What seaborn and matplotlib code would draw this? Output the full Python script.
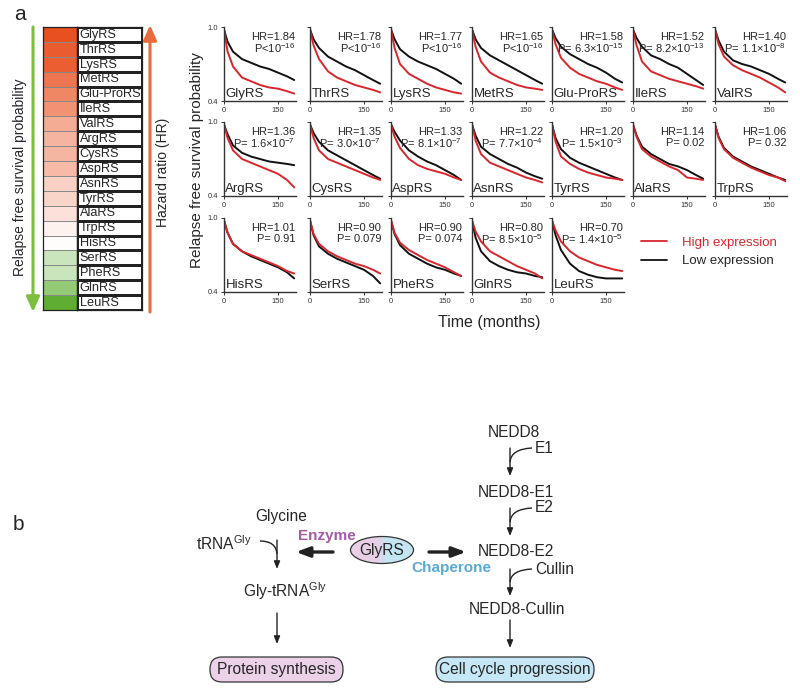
import numpy as np
import pandas as pd
import matplotlib
matplotlib.use('Agg')
import matplotlib.pyplot as plt
import seaborn as sns
from matplotlib.colors import LinearSegmentedColormap, TwoSlopeNorm, ListedColormap
from matplotlib.patches import FancyBboxPatch, Ellipse, PathPatch
from matplotlib.path import Path
from matplotlib.lines import Line2D

# --- data ---
genes = ['GlyRS', 'ThrRS', 'LysRS', 'MetRS', 'Glu-ProRS', 'IleRS', 'ValRS',
         'ArgRS', 'CysRS', 'AspRS', 'AsnRS', 'TyrRS', 'AlaRS', 'TrpRS',
         'HisRS', 'SerRS', 'PheRS', 'GlnRS', 'LeuRS']
hr = [1.84, 1.78, 1.77, 1.65, 1.58, 1.52, 1.40, 1.36, 1.35, 1.33, 1.22,
      1.20, 1.14, 1.06, 1.01, 0.90, 0.90, 0.80, 0.70]
p_labels = ['P<10$^{-16}$', 'P<10$^{-16}$', 'P<10$^{-16}$', 'P<10$^{-16}$',
            'P= 6.3×10$^{-15}$', 'P= 8.2×10$^{-13}$', 'P= 1.1×10$^{-8}$',
            'P= 1.6×10$^{-7}$', 'P= 3.0×10$^{-7}$', 'P= 8.1×10$^{-7}$',
            'P= 7.7×10$^{-4}$', 'P= 1.5×10$^{-3}$', 'P= 0.02', 'P= 0.32',
            'P= 0.91', 'P= 0.079', 'P= 0.074', 'P= 8.5×10$^{-5}$', 'P= 1.4×10$^{-5}$']

months = [0, 10, 25, 50, 75, 100, 125, 150, 175, 195]
surv_low = {
    'GlyRS':     [0.98, 0.88, 0.80, 0.74, 0.71, 0.68, 0.66, 0.63, 0.60, 0.57],
    'ThrRS':     [0.98, 0.90, 0.83, 0.76, 0.72, 0.68, 0.65, 0.61, 0.57, 0.54],
    'LysRS':     [0.98, 0.90, 0.82, 0.76, 0.72, 0.69, 0.66, 0.62, 0.58, 0.54],
    'MetRS':     [0.98, 0.90, 0.83, 0.77, 0.73, 0.69, 0.65, 0.61, 0.57, 0.54],
    'Glu-ProRS': [0.98, 0.91, 0.84, 0.78, 0.74, 0.70, 0.67, 0.63, 0.58, 0.55],
    'IleRS':     [0.98, 0.91, 0.84, 0.77, 0.74, 0.70, 0.67, 0.62, 0.57, 0.53],
    'ValRS':     [0.98, 0.89, 0.80, 0.73, 0.70, 0.68, 0.65, 0.62, 0.58, 0.55],
    'ArgRS':     [0.98, 0.90, 0.81, 0.75, 0.72, 0.70, 0.68, 0.67, 0.66, 0.65],
    'CysRS':     [0.98, 0.91, 0.84, 0.77, 0.73, 0.69, 0.65, 0.61, 0.57, 0.54],
    'AspRS':     [0.98, 0.92, 0.85, 0.77, 0.72, 0.68, 0.65, 0.61, 0.57, 0.53],
    'AsnRS':     [0.98, 0.89, 0.80, 0.74, 0.70, 0.66, 0.63, 0.59, 0.56, 0.54],
    'TyrRS':     [0.98, 0.87, 0.78, 0.71, 0.67, 0.64, 0.61, 0.58, 0.55, 0.53],
    'AlaRS':     [0.98, 0.89, 0.80, 0.74, 0.70, 0.66, 0.64, 0.61, 0.57, 0.54],
    'TrpRS':     [0.98, 0.88, 0.79, 0.72, 0.68, 0.64, 0.61, 0.58, 0.55, 0.53],
    'HisRS':     [0.98, 0.88, 0.79, 0.73, 0.69, 0.66, 0.63, 0.60, 0.56, 0.51],
    'SerRS':     [0.98, 0.86, 0.77, 0.71, 0.67, 0.64, 0.61, 0.58, 0.53, 0.47],
    'PheRS':     [0.98, 0.87, 0.78, 0.71, 0.67, 0.63, 0.60, 0.58, 0.55, 0.53],
    'GlnRS':     [0.98, 0.84, 0.73, 0.65, 0.61, 0.58, 0.56, 0.55, 0.53, 0.52],
    'LeuRS':     [0.98, 0.86, 0.74, 0.63, 0.57, 0.54, 0.52, 0.51, 0.51, 0.51],
}
surv_high = {
    'GlyRS':     [0.98, 0.80, 0.68, 0.59, 0.56, 0.53, 0.51, 0.50, 0.48, 0.46],
    'ThrRS':     [0.98, 0.85, 0.74, 0.64, 0.59, 0.56, 0.53, 0.51, 0.49, 0.47],
    'LysRS':     [0.98, 0.83, 0.70, 0.62, 0.58, 0.54, 0.51, 0.49, 0.47, 0.46],
    'MetRS':     [0.98, 0.84, 0.72, 0.63, 0.59, 0.56, 0.53, 0.51, 0.50, 0.49],
    'Glu-ProRS': [0.98, 0.86, 0.75, 0.67, 0.62, 0.59, 0.56, 0.54, 0.51, 0.49],
    'IleRS':     [0.98, 0.85, 0.72, 0.64, 0.61, 0.58, 0.56, 0.54, 0.52, 0.50],
    'ValRS':     [0.98, 0.86, 0.76, 0.69, 0.65, 0.62, 0.59, 0.55, 0.51, 0.47],
    'ArgRS':     [0.98, 0.87, 0.77, 0.70, 0.67, 0.64, 0.61, 0.58, 0.53, 0.47],
    'CysRS':     [0.98, 0.87, 0.77, 0.70, 0.67, 0.64, 0.61, 0.58, 0.55, 0.53],
    'AspRS':     [0.98, 0.88, 0.79, 0.70, 0.65, 0.62, 0.60, 0.58, 0.55, 0.53],
    'AsnRS':     [0.98, 0.85, 0.74, 0.67, 0.64, 0.61, 0.58, 0.55, 0.53, 0.51],
    'TyrRS':     [0.98, 0.84, 0.72, 0.66, 0.62, 0.59, 0.57, 0.55, 0.54, 0.53],
    'AlaRS':     [0.98, 0.88, 0.78, 0.72, 0.68, 0.64, 0.61, 0.55, 0.54, 0.53],
    'TrpRS':     [0.98, 0.87, 0.78, 0.71, 0.67, 0.63, 0.60, 0.57, 0.55, 0.52],
    'HisRS':     [0.98, 0.88, 0.79, 0.73, 0.70, 0.67, 0.64, 0.61, 0.57, 0.55],
    'SerRS':     [0.98, 0.87, 0.79, 0.73, 0.69, 0.66, 0.63, 0.61, 0.58, 0.55],
    'PheRS':     [0.98, 0.88, 0.80, 0.74, 0.70, 0.66, 0.63, 0.60, 0.56, 0.53],
    'GlnRS':     [0.98, 0.89, 0.81, 0.73, 0.69, 0.65, 0.61, 0.58, 0.55, 0.51],
    'LeuRS':     [0.98, 0.90, 0.81, 0.73, 0.68, 0.65, 0.62, 0.60, 0.58, 0.57],
}

sns.set_style('ticks')
plt.rcParams['font.family'] = ['Liberation Sans', 'DejaVu Sans']
plt.rcParams['mathtext.default'] = 'regular'

W, H = 800, 691
fig = plt.figure(figsize=(W / 100, H / 100), dpi=100)


def px_axes(x, y, w, h):
    return fig.add_axes([x / W, 1 - (y + h) / H, w / W, h / H])


RED = '#d8262c'
BLACK = '#111111'

# --- left heatmap of hazard ratios ---
cmap = LinearSegmentedColormap.from_list('hr', ['#5fae32', '#ffffff', '#e8501f'])
norm = TwoSlopeNorm(vmin=0.7, vcenter=1.0, vmax=1.84)
ax_h = px_axes(43, 27, 34, 283)
sns.heatmap(np.array(hr).reshape(-1, 1), cmap=cmap, norm=norm, cbar=False,
            linewidths=0.4, linecolor='#888888', xticklabels=False,
            yticklabels=False, ax=ax_h)
ax_l = px_axes(77, 27, 65, 283)
sns.heatmap(np.zeros((len(genes), 1)), cmap=ListedColormap(['white']), cbar=False,
            linewidths=0.8, linecolor='#222222', xticklabels=False,
            yticklabels=False, ax=ax_l)
for i, g in enumerate(genes):
    ax_l.text(0.04, i + 0.52, g, va='center', ha='left', fontsize=9.2)
for a in (ax_h, ax_l):
    for s in a.spines.values():
        s.set_visible(True)
        s.set_linewidth(0.9)
        s.set_color('#222222')

# --- KM panels ---
lefts = [224, 310, 391, 472, 552, 633, 715]
tops = [27, 122, 218]
for k, g in enumerate(genes):
    r, c = divmod(k, 7)
    ax = px_axes(lefts[c], tops[r], 72, 74)
    df = pd.DataFrame({
        'month': months * 2,
        'surv': surv_low[g] + surv_high[g],
        'group': ['Low'] * len(months) + ['High'] * len(months),
    })
    sns.lineplot(data=df, x='month', y='surv', hue='group',
                 palette={'Low': BLACK, 'High': RED}, hue_order=['Low', 'High'],
                 linewidth=1.4, legend=False, ax=ax)
    ax.set_xlim(0, 200)
    ax.set_ylim(0.4, 1.0)
    ax.set_xticks([0, 150])
    ax.set_yticks([0.4, 1.0])
    if c == 0:
        ax.set_yticklabels(['0.4', '1.0'])
    else:
        ax.set_yticklabels([])
    ax.tick_params(labelsize=5.5, length=2.5, width=0.7, pad=1.5, colors='#333333')
    ax.set_xlabel('')
    ax.set_ylabel('')
    sns.despine(ax=ax)
    for s in ('left', 'bottom'):
        ax.spines[s].set_linewidth(1.0)
        ax.spines[s].set_color('#333333')
    ax.patch.set_alpha(0)
    ax.text(0.02, 0.02, g, transform=ax.transAxes, fontsize=9.5,
            ha='left', va='bottom')
    ax.text(0.99, 0.865, f'HR={hr[k]:.2f}', transform=ax.transAxes,
            fontsize=8, ha='right', va='center')
    ax.text(0.99, 0.72, p_labels[k], transform=ax.transAxes,
            fontsize=8, ha='right', va='center')

fig.text(197 / W, 1 - 160 / H, 'Relapse free survival probability',
         rotation=90, ha='center', va='center', fontsize=11)
fig.text(489 / W, 1 - 322 / H, 'Time (months)', ha='center', va='center',
         fontsize=11.5)

handles = [Line2D([], [], color=RED, lw=1.3), Line2D([], [], color=BLACK, lw=1.3)]
leg = fig.legend(handles, ['High expression', 'Low expression'],
                 loc='center left', bbox_to_anchor=(641 / W, 1 - 252 / H),
                 frameon=False, fontsize=9.5, handlelength=2.0,
                 labelspacing=0.45, handletextpad=1.1,
                 borderpad=0, borderaxespad=0)
leg.get_texts()[0].set_color(RED)

# --- overlay for arrows, labels and panel b ---
ov = fig.add_axes([0, 0, 1, 1])
ov.set_xlim(0, W)
ov.set_ylim(H, 0)
ov.axis('off')
ov.patch.set_alpha(0)

ov.text(20, 14, 'a', fontsize=15, ha='center', va='center')
ov.text(18, 524, 'b', fontsize=15, ha='center', va='center')

ov.annotate('', xy=(33, 312), xytext=(33, 27),
            arrowprops=dict(arrowstyle='-|>,head_width=0.4,head_length=0.9',
                            color='#7cbf3f', lw=2.2, shrinkA=0, shrinkB=0))
ov.annotate('', xy=(150, 25), xytext=(150, 312),
            arrowprops=dict(arrowstyle='-|>,head_width=0.4,head_length=0.9',
                            color='#e96a3c', lw=2.2, shrinkA=0, shrinkB=0))
ov.text(20, 177, 'Relapse free survival probability', rotation=90,
        ha='center', va='center', fontsize=10)
ov.text(163, 172, 'Hazard ratio (HR)', rotation=90, ha='center',
        va='center', fontsize=10)

FS = 11.2


def down_arrow(x, y0, y1):
    ov.annotate('', xy=(x, y1), xytext=(x, y0),
                arrowprops=dict(arrowstyle='-|>,head_width=0.18,head_length=0.45',
                                color='#222222', lw=1.0, shrinkA=0, shrinkB=0))


def curve(x0, y0, xc, yc, x1, y1):
    p = Path([(x0, y0), (xc, yc), (x1, y1)], [Path.MOVETO, Path.CURVE3, Path.CURVE3])
    ov.add_patch(PathPatch(p, fill=False, lw=1.0, color='#222222'))


# right branch (chaperone)
ov.text(514, 432, 'NEDD8', ha='center', va='center', fontsize=FS)
ov.text(535, 448, 'E1', ha='left', va='center', fontsize=FS)
down_arrow(510, 448, 476)
curve(532, 448, 511, 449, 510, 462)
ov.text(516, 492, 'NEDD8-E1', ha='center', va='center', fontsize=FS)
ov.text(535, 508, 'E2', ha='left', va='center', fontsize=FS)
down_arrow(510, 508, 536)
curve(532, 508, 511, 509, 510, 522)
ov.text(516, 552, 'NEDD8-E2', ha='center', va='center', fontsize=FS)
ov.text(535, 569, 'Cullin', ha='left', va='center', fontsize=FS)
down_arrow(510, 569, 596)
curve(532, 569, 511, 570, 510, 582)
ov.text(517, 610, 'NEDD8-Cullin', ha='center', va='center', fontsize=FS)
down_arrow(510, 620, 648)
ov.add_patch(FancyBboxPatch((436, 657), 158, 25,
                            boxstyle='round,pad=0,rounding_size=12',
                            fc='#c6e7f5', ec='#333333', lw=0.9))
ov.text(515, 669.5, 'Cell cycle progression', ha='center', va='center', fontsize=FS)

# left branch (enzyme)
ov.text(281, 517, 'Glycine', ha='center', va='center', fontsize=FS)
ov.text(196, 544, 'tRNA$^{Gly}$', ha='left', va='center', fontsize=FS)
down_arrow(277, 540, 569)
curve(260, 541, 276, 541, 277, 554)
ov.text(285, 591, 'Gly-tRNA$^{Gly}$', ha='center', va='center', fontsize=FS)
down_arrow(277, 613, 644)
ov.add_patch(FancyBboxPatch((210, 657), 133, 25,
                            boxstyle='round,pad=0,rounding_size=12',
                            fc='#ecd2e9', ec='#333333', lw=0.9))
ov.text(276, 669.5, 'Protein synthesis', ha='center', va='center', fontsize=FS)

# GlyRS ellipse with two-tone fill
ell = Ellipse((382, 550), 63, 27, fc='none', ec='#333333', lw=0.9, zorder=3)
ov.add_patch(ell)
tone = LinearSegmentedColormap.from_list(
    'tone', [(0, '#e8cfe6'), (0.4, '#e8cfe6'), (0.6, '#c4e6f3'), (1, '#c4e6f3')])
img = ov.imshow(np.linspace(0, 1, 64).reshape(1, -1), cmap=tone, aspect='auto',
                extent=(350, 414, 564, 536), zorder=2)
img.set_clip_path(ell)
ov.set_xlim(0, W)
ov.set_ylim(H, 0)
ov.text(382, 551, 'GlyRS', ha='center', va='center', fontsize=FS, zorder=4)

thick = dict(arrowstyle='-|>,head_width=0.3,head_length=0.8',
             color='#222222', lw=2.4, shrinkA=0, shrinkB=0)
ov.annotate('', xy=(296, 552), xytext=(333, 552), arrowprops=thick)
ov.annotate('', xy=(466, 552), xytext=(429, 552), arrowprops=thick)
ov.text(327, 536, 'Enzyme', ha='center', va='center', fontsize=11,
        fontweight='bold', color='#a45ba3')
ov.text(451, 568, 'Chaperone', ha='center', va='center', fontsize=11,
        fontweight='bold', color='#5aaad6')

fig.savefig('out.png', dpi=100, facecolor='white')
